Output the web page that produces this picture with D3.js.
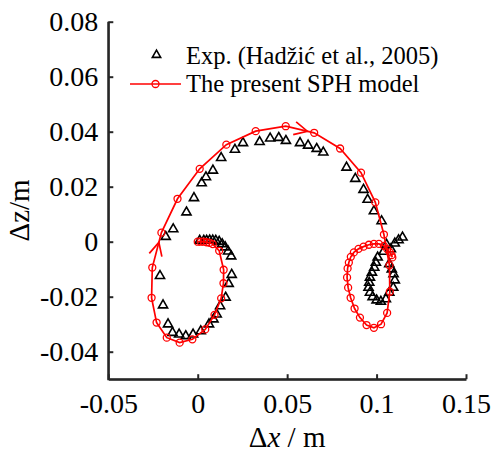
<!DOCTYPE html>
<html>
<head>
<meta charset="utf-8">
<script src="https://cdn.jsdelivr.net/npm/d3@7"></script>
<style>
  html, body { margin: 0; padding: 0; background: #fff; }
  svg { display: block; }
  text { font-family: "Liberation Serif", "Times New Roman", serif; fill: #000; }
</style>
</head>
<body>
<svg id="chart" width="491" height="452"></svg>
<script>
// ---- data ----
const xTicks = [-0.05, 0, 0.05, 0.1, 0.15];
const yTicks = [-0.04, -0.02, 0, 0.02, 0.04, 0.06, 0.08];
const legendLabels = ["Exp. (Hadžić et al., 2005)", "The present SPH model"];

// Experimental data (Hadžić et al., 2005)
const expX = [0.0011,0.0034,0.0050,0.0067,0.0084,0.0101,0.0120,0.0137,0.0154,0.0170,0.0187,
  0.0190,0.0173,0.0156,0.0125,0.0106,0.0088,0.0063,0.0017,-0.0026,-0.0067,-0.0104,-0.0141,
  -0.0166,-0.0194,-0.0211,-0.0179,-0.0137,-0.0063,-0.0021,0.0022,0.0046,0.0085,0.0131,0.0208,
  0.0253,0.0346,0.0405,0.0453,0.0493,0.0572,0.0617,0.0665,0.0702,0.0832,0.0881,0.0927,0.0950,
  0.0985,0.1028,0.1056,0.1071,0.1085,0.1095,0.1102,0.1093,0.1071,0.1052,0.1024,0.1000,0.0978,
  0.0963,0.0955,0.0959,0.0963,0.0974,0.0987,0.0996,0.1006,0.1039,0.1080,0.1102,0.1123,0.1145];
const expZ = [0.0004,0.0004,0.0004,0.0005,0.0005,0.0004,0.0000,-0.0009,-0.0020,-0.0035,-0.0053,
  -0.0120,-0.0153,-0.0203,-0.0234,-0.0264,-0.0282,-0.0300,-0.0325,-0.0337,-0.0343,-0.0337,-0.0331,
  -0.0300,-0.0231,-0.0124,0.0018,0.0046,0.0107,0.0159,0.0213,0.0235,0.0259,0.0305,0.0335,
  0.0359,0.0363,0.0376,0.0378,0.0367,0.0359,0.0350,0.0338,0.0325,0.0270,0.0229,0.0189,0.0153,
  0.0111,0.0075,-0.0011,-0.0081,-0.0100,-0.0118,-0.0140,-0.0167,-0.0185,-0.0209,-0.0218,-0.0213,-0.0201,
  -0.0185,-0.0167,-0.0149,-0.0130,-0.0112,-0.0094,-0.0076,-0.0057,-0.0036,-0.0027,-0.0006,0.0006,0.0016];

// The present SPH model
const sphX = [0.0000,0.0017,0.0034,0.0050,0.0067,0.0084,0.0120,0.0145,0.0144,0.0131,0.0094,0.0042,
  -0.0030,-0.0101,-0.0173,-0.0230,-0.0258,-0.0254,-0.0203,-0.0113,0.0011,0.0160,0.0324,0.0492,
  0.0651,0.0796,0.0913,0.0993,0.1041,0.1072,0.1074,0.1059,0.1025,0.0985,0.0944,0.0907,0.0877,
  0.0855,0.0841,0.0835,0.0838,0.0845,0.0856,0.0873,0.0899,0.0927,0.0957,0.0985,0.1013,0.1041,
  0.1060,0.1074,0.1084,0.1088];
const sphZ = [0.0000,0.0000,0.0000,-0.0002,-0.0004,-0.0009,-0.0033,-0.0102,-0.0151,-0.0206,-0.0266,-0.0319,
  -0.0355,-0.0367,-0.0349,-0.0294,-0.0204,-0.0094,0.0033,0.0156,0.0265,0.0353,0.0402,0.0420,
  0.0396,0.0339,0.0251,0.0143,0.0026,-0.0086,-0.0182,-0.0259,-0.0300,-0.0313,-0.0303,-0.0276,-0.0243,
  -0.0204,-0.0167,-0.0130,-0.0097,-0.0076,-0.0055,-0.0039,-0.0026,-0.0018,-0.0011,-0.0008,-0.0008,-0.0015,
  -0.0027,-0.0039,-0.0049,-0.0057];

// direction arrows on the SPH path: segment start index and fraction along it
const arrowSeg = [17, 23];
const arrowFrac = [0.72, 0.76];

// ---- chart ----
const svg = d3.select("#chart");
const axisColor = "#262626";
const serif = '"Liberation Serif", "Times New Roman", serif';
const x = d3.scaleLinear().domain([-0.05, 0.15]).range([108.3, 466]);
const y = d3.scaleLinear().domain([-0.05, 0.08]).range([379.2, 21.7]);
const fmt = d => d === 0 ? "0" : String(+d.toFixed(2));

const tickFont = 28;

const gx = svg.append("g").attr("transform", `translate(0,${y(-0.05)})`)
  .call(d3.axisBottom(x).tickValues(xTicks).tickFormat(fmt).tickSizeInner(-5).tickSizeOuter(0).tickPadding(14));
const gy = svg.append("g").attr("transform", `translate(${x(-0.05)},0)`)
  .call(d3.axisLeft(y).tickValues(yTicks).tickFormat(fmt).tickSizeInner(-5).tickSizeOuter(0).tickPadding(10));

[gx, gy].forEach(g => {
  g.attr("font-family", serif);
  g.select(".domain").attr("stroke", axisColor).attr("stroke-width", 2);
  g.selectAll(".tick line").attr("stroke", axisColor).attr("stroke-width", 2);
  g.selectAll(".tick text").attr("fill", "#000")
    .attr("font-family", serif)
    .style("font-family", serif)
    .style("font-size", tickFont + "px");
});
// join corner
svg.append("path")
  .attr("d", `M${x(-0.05)},${y(0.08)}V${y(-0.05)}H${x(0.15)}`)
  .attr("fill", "none").attr("stroke", axisColor).attr("stroke-width", 2);

// axis titles
svg.append("text")
  .attr("transform", `translate(29,${(y(0.08) + y(-0.05)) / 2 + 10}) rotate(-90)`)
  .attr("text-anchor", "middle")
  .style("font-size", "29px")
  .text("Δz/m");

const xt = svg.append("text")
  .attr("x", (x(-0.05) + x(0.15)) / 2)
  .attr("y", 447)
  .attr("text-anchor", "middle")
  .style("font-size", "29px");
xt.append("tspan").text("Δ");
xt.append("tspan").style("font-style", "italic").text("x");
xt.append("tspan").text(" / m");

// experimental triangles
const tri = d3.symbol(d3.symbolTriangle, 36);
svg.append("g").selectAll("path").data(d3.range(expX.length)).join("path")
  .attr("d", tri)
  .attr("transform", i => `translate(${x(expX[i])},${y(expZ[i])})`)
  .attr("fill", "none").attr("stroke", "#000").attr("stroke-width", 1.6);

// SPH line + circles
const red = "#ff0000";
const line = d3.line().x(i => x(sphX[i])).y(i => y(sphZ[i]));
svg.append("path").attr("d", line(d3.range(sphX.length)))
  .attr("fill", "none").attr("stroke", red).attr("stroke-width", 1.7);
svg.append("g").selectAll("circle").data(d3.range(sphX.length)).join("circle")
  .attr("cx", i => x(sphX[i])).attr("cy", i => y(sphZ[i])).attr("r", 3.5)
  .attr("fill", "none").attr("stroke", red).attr("stroke-width", 1.3);

// arrows
arrowSeg.forEach((s, k) => {
  const t = arrowFrac[k];
  const x0 = x(sphX[s]), y0 = y(sphZ[s]), x1 = x(sphX[s + 1]), y1 = y(sphZ[s + 1]);
  const ax = x0 + (x1 - x0) * t, ay = y0 + (y1 - y0) * t;
  const ang = Math.atan2(y1 - y0, x1 - x0);
  const L = 13, W = 6.5;
  const bx = ax - L * Math.cos(ang), by = ay - L * Math.sin(ang);
  const px = -Math.sin(ang) * W, py = Math.cos(ang) * W;
  svg.append("path")
    .attr("d", `M${bx + px},${by + py}L${ax},${ay}L${bx - px},${by - py}`)
    .attr("fill", "none").attr("stroke", red).attr("stroke-width", 1.7);
});

// legend
const lg = svg.append("g");
lg.append("path").attr("d", d3.symbol(d3.symbolTriangle, 30)).attr("transform", "translate(156.5,55)")
  .attr("fill", "none").attr("stroke", "#000").attr("stroke-width", 1.6);
lg.append("text").attr("x", 186).attr("y", 64).style("font-size", "24.5px").text(legendLabels[0]);
lg.append("line").attr("x1", 130).attr("x2", 181).attr("y1", 84).attr("y2", 84)
  .attr("stroke", red).attr("stroke-width", 1.7);
lg.append("circle").attr("cx", 155.5).attr("cy", 84).attr("r", 3.5)
  .attr("fill", "none").attr("stroke", red).attr("stroke-width", 1.3);
lg.append("text").attr("x", 186).attr("y", 92).style("font-size", "24.5px").text(legendLabels[1]);
</script>
</body>
</html>
